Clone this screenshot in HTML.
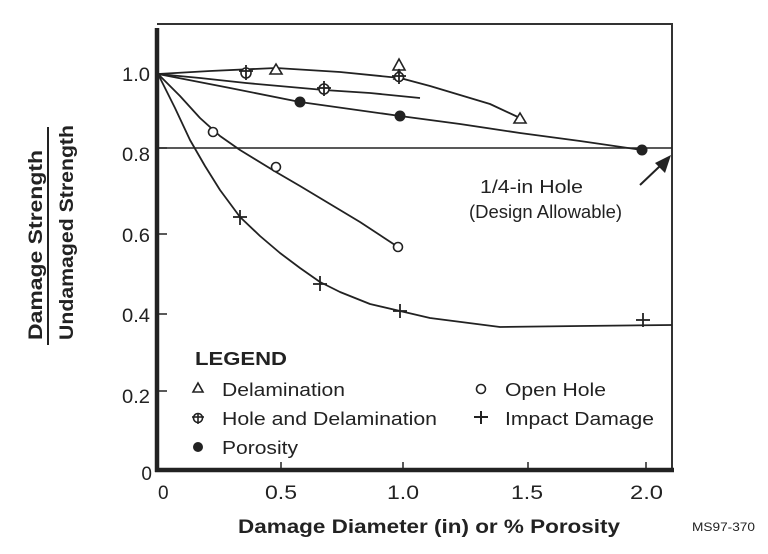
<!DOCTYPE html>
<html><head><meta charset="utf-8"><style>
html,body{margin:0;padding:0;background:#fff;}
svg{display:block;}
text{font-family:"Liberation Sans",Arial,sans-serif;fill:#222;}
</style></head><body>
<svg width="768" height="554" viewBox="0 0 768 554" xmlns="http://www.w3.org/2000/svg">
<!-- frame -->
<polyline points="157,24 672,24 672,470" fill="none" stroke="#333" stroke-width="2"/>
<line x1="157" y1="28" x2="157" y2="472" stroke="#222" stroke-width="4.5"/>
<line x1="155" y1="470" x2="674" y2="470" stroke="#222" stroke-width="4.5"/>
<!-- ticks -->
<g stroke="#222" stroke-width="1.5">
<line x1="157" y1="74.5" x2="167" y2="74.5"/>
<line x1="157" y1="148" x2="167" y2="148"/>
<line x1="157" y1="234" x2="167" y2="234"/>
<line x1="157" y1="314" x2="167" y2="314"/>
<line x1="157" y1="391" x2="167" y2="391"/>
<line x1="281" y1="470" x2="281" y2="462"/>
<line x1="403" y1="470" x2="403" y2="462"/>
<line x1="528" y1="470" x2="528" y2="462"/>
<line x1="646" y1="470" x2="646" y2="462"/>
</g>
<line x1="157" y1="148" x2="672" y2="148" stroke="#222" stroke-width="1.5"/>
<!-- tick labels -->
<g font-size="19" text-anchor="end">
<text x="150" y="81" textLength="28" lengthAdjust="spacingAndGlyphs">1.0</text>
<text x="150" y="161" textLength="28" lengthAdjust="spacingAndGlyphs">0.8</text>
<text x="150" y="242" textLength="28" lengthAdjust="spacingAndGlyphs">0.6</text>
<text x="150" y="322" textLength="28" lengthAdjust="spacingAndGlyphs">0.4</text>
<text x="150" y="403" textLength="28" lengthAdjust="spacingAndGlyphs">0.2</text>
<text x="152" y="480">0</text>
</g>
<g font-size="19">
<text x="158" y="499">0</text>
<text x="265" y="499" textLength="32" lengthAdjust="spacingAndGlyphs">0.5</text>
<text x="387" y="499" textLength="32" lengthAdjust="spacingAndGlyphs">1.0</text>
<text x="511" y="499" textLength="32" lengthAdjust="spacingAndGlyphs">1.5</text>
<text x="630" y="499" textLength="33" lengthAdjust="spacingAndGlyphs">2.0</text>
</g>
<!-- axis titles -->
<text x="238" y="533" font-size="19" font-weight="bold" textLength="382" lengthAdjust="spacingAndGlyphs">Damage Diameter (in) or % Porosity</text>
<text x="692" y="531" font-size="12" textLength="63" lengthAdjust="spacingAndGlyphs">MS97-370</text>
<text transform="translate(42,340) rotate(-90)" font-size="19" font-weight="bold" textLength="190" lengthAdjust="spacingAndGlyphs">Damage Strength</text>
<line x1="48" y1="127" x2="48" y2="345" stroke="#222" stroke-width="2"/>
<text transform="translate(73,340) rotate(-90)" font-size="19" font-weight="bold" textLength="215" lengthAdjust="spacingAndGlyphs">Undamaged Strength</text>
<!-- curves -->
<g fill="none" stroke="#222" stroke-width="1.8" stroke-linejoin="round">
<polyline points="158,74 210,71 276,68 340,72 400,78 430,86 460,95 490,104 520,118"/>
<polyline points="158,74 200,78 246,83 324,90 370,93 420,98"/>
<polyline points="158,74 230,88 300,102 400,116 460,124 520,133 580,141 642,150"/>
<polyline points="158,74 180,96 200,118 220,136 240,150 276,172 300,186 330,204 360,222 398,247"/>
<polyline points="158,74 175,108 190,140 205,166 220,190 240,217 260,236 280,253 300,268 320,282 340,292 370,304 400,311 430,318 500,327 580,326 672,325"/>
</g>
<!-- markers -->
<g fill="#fff" stroke="#222" stroke-width="1.6">
<polygon points="276,64 282,74 270,74"/>
<polygon points="399,59 405,70 393,70"/>
<polygon points="399,70 404,79 394,79"/>
<polygon points="520,113 526,123 514,123"/>
<circle cx="213" cy="132" r="4.5"/>
<circle cx="276" cy="167" r="4.5"/>
<circle cx="398" cy="247" r="4.5"/>
<circle cx="246" cy="73" r="5"/>
<circle cx="324" cy="89" r="5"/>
<circle cx="399" cy="77" r="4.5"/>
</g>
<g stroke="#222" stroke-width="1.8">
<line x1="246" y1="65" x2="246" y2="80"/><line x1="239" y1="71" x2="253" y2="71"/>
<line x1="324" y1="81" x2="324" y2="96"/><line x1="317" y1="88" x2="331" y2="88"/>
<line x1="399" y1="69" x2="399" y2="84"/><line x1="392" y1="76" x2="406" y2="76"/>
<line x1="240" y1="210" x2="240" y2="225"/><line x1="233" y1="217" x2="247" y2="217"/>
<line x1="320" y1="276" x2="320" y2="291"/><line x1="313" y1="284" x2="327" y2="284"/>
<line x1="400" y1="304" x2="400" y2="318"/><line x1="393" y1="311" x2="407" y2="311"/>
<line x1="643" y1="313" x2="643" y2="327"/><line x1="636" y1="320" x2="650" y2="320"/>
</g>
<g fill="#222">
<circle cx="300" cy="102" r="5.5"/>
<circle cx="400" cy="116" r="5.5"/>
<circle cx="642" cy="150" r="5.5"/>
</g>
<!-- annotation -->
<text x="480" y="193" font-size="18" textLength="103" lengthAdjust="spacingAndGlyphs">1/4-in Hole</text>
<text x="469" y="218" font-size="18" textLength="153" lengthAdjust="spacingAndGlyphs">(Design Allowable)</text>
<line x1="640" y1="185" x2="660" y2="166" stroke="#222" stroke-width="2"/>
<polygon points="671,155 665,173 655,163" fill="#222"/>
<!-- legend -->
<text x="195" y="365" font-size="18" font-weight="bold" textLength="92" lengthAdjust="spacingAndGlyphs">LEGEND</text>
<g font-size="18">
<text x="222" y="396" textLength="123" lengthAdjust="spacingAndGlyphs">Delamination</text>
<text x="222" y="425" textLength="215" lengthAdjust="spacingAndGlyphs">Hole and Delamination</text>
<text x="222" y="454" textLength="76" lengthAdjust="spacingAndGlyphs">Porosity</text>
<text x="505" y="396" textLength="101" lengthAdjust="spacingAndGlyphs">Open Hole</text>
<text x="505" y="425" textLength="149" lengthAdjust="spacingAndGlyphs">Impact Damage</text>
</g>
<polygon points="198,383 203,392 193,392" fill="#fff" stroke="#222" stroke-width="1.6"/>
<circle cx="198" cy="418" r="4.5" fill="#fff" stroke="#222" stroke-width="1.6"/>
<line x1="198" y1="413" x2="198" y2="424" stroke="#222" stroke-width="1.6"/>
<line x1="192" y1="417" x2="204" y2="417" stroke="#222" stroke-width="1.6"/>
<circle cx="198" cy="447" r="5" fill="#222"/>
<circle cx="481" cy="389" r="4.5" fill="#fff" stroke="#222" stroke-width="1.6"/>
<line x1="481" y1="411" x2="481" y2="424" stroke="#222" stroke-width="2"/>
<line x1="474" y1="417" x2="488" y2="417" stroke="#222" stroke-width="2"/>
</svg>
</body></html>
